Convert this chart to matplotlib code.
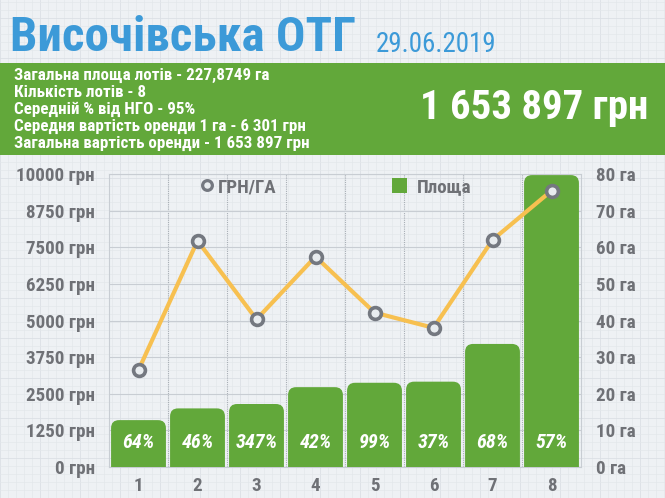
import matplotlib
matplotlib.use("Agg")
import matplotlib.pyplot as plt
from matplotlib.patches import FancyBboxPatch, Rectangle
from matplotlib.lines import Line2D
from matplotlib import font_manager
import numpy as np

# ---- data ----
lots = ["1", "2", "3", "4", "5", "6", "7", "8"]
area_ha = [12.8, 16.0, 17.2, 21.8, 23.0, 23.3, 33.6, 79.7]
price_per_ha = [3310, 7720, 5040, 7180, 5270, 4750, 7750, 9430]
pct_ngo = ["64%", "46%", "347%", "42%", "99%", "37%", "68%", "57%"]
left_ticks = [0, 1250, 2500, 3750, 5000, 6250, 7500, 8750, 10000]
right_ticks = [0, 10, 20, 30, 40, 50, 60, 70, 80]
title = "Височівська ОТГ"
date = "29.06.2019"
info_lines = [
    "Загальна площа лотів - 227,8749 га",
    "Кількість лотів - 8",
    "Середній % від НГО - 95%",
    "Середня вартість оренди 1 га - 6 301 грн",
    "Загальна вартість оренди - 1 653 897 грн",
]
total_text = "1 653 897 грн"
legend_labels = ["ГРН/ГА", "Площа"]

BLUE = "#3C9AD8"
GREEN = "#62A83A"
ORANGE = "#F7C050"
GRAY = "#6F7176"
MARK = "#747880"

names = {f.name for f in font_manager.fontManager.ttflist}
FAM = ["DejaVu Sans"]
for cand in ["Roboto Condensed", "Liberation Sans Narrow", "Open Sans Condensed", "Roboto"]:
    if cand in names:
        FAM = [cand, "DejaVu Sans"]
        break
FONT = dict(family=FAM, fontweight="bold")

W, H = 665, 498
fig = plt.figure(figsize=(W / 100, H / 100), dpi=100)
fig.patch.set_facecolor("#EEF1F4")
renderer = fig.canvas.get_renderer()


def fit(texts, ref, target_px, max_fs=None):
    """scale font size of texts so that `ref` is target_px wide"""
    fs = ref.get_fontsize()
    w = ref.get_window_extent(renderer).width
    new = fs * target_px / w
    if max_fs is not None:
        new = min(new, max_fs)
    for t in texts:
        t.set_fontsize(new)


# background graph paper
bg = fig.add_axes([0, 0, 1, 1], zorder=-10)
bg.set_xlim(0, W)
bg.set_ylim(0, H)
bg.set_facecolor("#EEF1F4")
bg.set_xticks(np.arange(0, W, 8), minor=True)
bg.set_yticks(np.arange(0, H, 8), minor=True)
bg.set_xticks(np.arange(0, W, 40))
bg.set_yticks(np.arange(0, H, 40))
bg.grid(True, which="minor", color="#E3E7EB", lw=0.5)
bg.grid(True, which="major", color="#DBE0E5", lw=0.6)
bg.tick_params(which="both", length=0, labelbottom=False, labelleft=False)
for s in bg.spines.values():
    s.set_visible(False)

# green band
band = fig.add_axes([0, 1 - 155 / H, 1, 92 / H], zorder=-5)
band.set_facecolor(GREEN)
band.set_xticks([]); band.set_yticks([])
for s in band.spines.values():
    s.set_visible(False)

# title
tt = fig.text(10 / W, 1 - 38 / H, title, color=BLUE, fontsize=40, va="center", ha="left", **FONT)
fit([tt], tt, 345, max_fs=46)
td = fig.text(376 / W, 1 - 44 / H, date, color=BLUE, fontsize=18, va="center", ha="left",
              family=FAM)
fit([td], td, 121, max_fs=20)

infos = []
for i, t in enumerate(info_lines):
    infos.append(fig.text(14 / W, 1 - (75 + 17.2 * i) / H, t, color="white", fontsize=11.5,
                          va="center", ha="left", **FONT))
fit(infos, infos[4], 296, max_fs=13)
tot = fig.text(648 / W, 1 - 108 / H, total_text, color="white", fontsize=31, va="center",
               ha="right", **FONT)
fit([tot], tot, 228, max_fs=34)

# main axes
ax_l, ax_r, ax_t, ax_b = 109, 581, 174, 467
ax = fig.add_axes([ax_l / W, 1 - ax_b / H, (ax_r - ax_l) / W, (ax_b - ax_t) / H])
ax.set_facecolor("none")
x = np.arange(len(lots))
ax.set_xlim(-0.5, len(lots) - 0.5)
ax.set_ylim(0, 80)
ax2 = ax.twinx()

px_per_x = (ax_r - ax_l) / len(lots)
px_per_y = (ax_b - ax_t) / 80
aspect = px_per_x / px_per_y
r = 8 / px_per_x
bw = 0.93
pts = []
for xi, a, p in zip(x, area_ha, pct_ngo):
    patch = FancyBboxPatch((xi - bw / 2, -r * aspect * 2), bw, a + r * aspect * 2,
                           boxstyle=f"round,pad=0,rounding_size={r}",
                           mutation_aspect=aspect, fc=GREEN, ec="none", zorder=3)
    ax.add_patch(patch)
    pts.append(ax.text(xi, 6.6, p, color="white", fontsize=13, ha="center", va="center",
                       style="italic", zorder=4, **FONT))
fit(pts, pts[2], 42, max_fs=15)

ax.set_yticks(right_ticks)
ax.set_yticklabels([f"{v} га" for v in right_ticks])
ax.yaxis.tick_right()
ax.set_xticks(x)
ax.set_xticklabels(lots)
ax.set_xticks(np.arange(0.5, len(lots) - 0.5, 1), minor=True)
ax.grid(True, which="minor", axis="x", color="#A8AEB5", lw=0.8, ls=(0, (1, 1)))
ax.tick_params(axis="both", which="both", length=0)
ax.tick_params(axis="y", pad=11)
ax.tick_params(axis="x", pad=7)
for s in ax.spines.values():
    s.set_color("#C8CDD3"); s.set_linewidth(0.8)
ax.set_axisbelow(True)

ax2.set_ylim(0, 10000)
ax2.set_yticks(left_ticks)
ax2.set_yticklabels([f"{v} грн" for v in left_ticks])
ax2.yaxis.tick_left()
ax2.tick_params(axis="y", length=0, pad=10)
for s in ax2.spines.values():
    s.set_visible(False)
for yv in left_ticks:
    ax.axhline(yv / 10000 * 80, color="#C8CDD3", lw=0.8, zorder=1)

# tick label fonts
probe = fig.text(0, 0, "10000 грн", fontsize=14, **FONT)
fs_probe = 14 * 78 / probe.get_window_extent(renderer).width
probe.remove()
fs_tick = min(fs_probe, 15)
for lab in ax.get_yticklabels() + ax.get_xticklabels() + ax2.get_yticklabels():
    lab.set_color(GRAY); lab.set_fontsize(fs_tick)
    lab.set_fontweight("bold"); lab.set_family(FAM)

ax2.plot(x, price_per_ha, color=ORANGE, lw=3, zorder=5, solid_capstyle="round")
ax2.plot(x, price_per_ha, ls="none", marker="o", ms=8.5, mfc="#E8ECEF", mec=MARK,
         mew=2.6, zorder=6)

# legend (two separate entries, as in the reference)
fs_px = fs_tick * 100 / 72
y_leg = (ax_b - 187) / (ax_b - ax_t)
common = dict(frameon=False, borderpad=0, borderaxespad=0, handlelength=14.5 / fs_px,
              prop=dict(family=FAM, weight="bold", size=fs_tick), loc="center left")
h1 = Line2D([], [], ls="none", marker="o", ms=7, mfc="#E8ECEF", mec=MARK, mew=2.3)
h2 = Rectangle((0, 0), 1, 1, fc=GREEN, ec="none")
legA = ax2.legend([h1], legend_labels[:1], bbox_to_anchor=((200 - ax_l) / (ax_r - ax_l), y_leg),
                  handletextpad=3.5 / fs_px, **common)
for t in legA.get_texts():
    t.set_color(GRAY)
ax2.add_artist(legA)
legB = ax2.legend([h2], legend_labels[1:], bbox_to_anchor=((392 - ax_l) / (ax_r - ax_l), y_leg),
                  handletextpad=10 / fs_px, handleheight=15 / fs_px, **common)
for t in legB.get_texts():
    t.set_color(GRAY)

fig.savefig("out.png", dpi=100, facecolor=fig.get_facecolor())
